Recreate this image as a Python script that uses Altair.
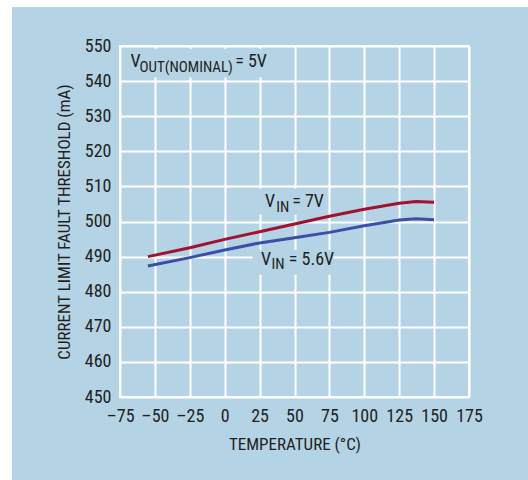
import altair as alt
import pandas as pd

temp_7v = [-55, -25, 0, 25, 50, 75, 100, 125, 137, 150]
vin_7v = [490.0, 492.5, 494.9, 497.1, 499.3, 501.5, 503.5, 505.2, 505.7, 505.5]
temp_56v = [-55, -25, 0, 25, 50, 75, 100, 125, 137, 150]
vin_56v = [487.3, 489.7, 491.9, 493.9, 495.4, 496.9, 498.8, 500.4, 500.8, 500.5]

x_ticks = [-75, -50, -25, 0, 25, 50, 75, 100, 125, 150, 175]
y_ticks = [450, 460, 470, 480, 490, 500, 510, 520, 530, 540, 550]

BG = "#b4d3e4"
TXT = "#231f20"
FONT = "Roboto Condensed"

df = pd.DataFrame(
    {"t": temp_7v + temp_56v,
     "v": vin_7v + vin_56v,
     "s": ["7V"] * len(temp_7v) + ["5.6V"] * len(temp_56v)}
)

xs = alt.Scale(domain=[-75, 175], nice=False)
ys = alt.Scale(domain=[450, 550], nice=False)

x_axis = alt.Axis(values=x_ticks, title="TEMPERATURE (°C)", labelFontSize=18,
                  titleFontSize=17, labelPadding=10, titlePadding=11,
                  labelOverlap=False, labelFlush=False,
                  labelExpr="replace(datum.label, '−', '–')")
y_axis = alt.Axis(values=y_ticks, title="CURRENT LIMIT FAULT THRESHOLD (mA)",
                  labelFontSize=18, titleFontSize=17, labelPadding=9,
                  labelOverlap=False, labelFlush=False, titlePadding=11)

# white page margins (left and top strips)
strips = alt.Chart(pd.DataFrame({"a": [0]})).mark_rect(color="white")
left_strip = strips.encode(x=alt.value(-121), x2=alt.value(-108), y=alt.value(-47), y2=alt.value(440))
top_strip = strips.encode(x=alt.value(-121), x2=alt.value(420), y=alt.value(-47), y2=alt.value(-39))

base = alt.Chart(df).mark_line(strokeWidth=3).encode(
    x=alt.X("t:Q", scale=xs, axis=x_axis),
    y=alt.Y("v:Q", scale=ys, axis=y_axis),
    color=alt.Color("s:N", scale=alt.Scale(domain=["7V", "5.6V"], range=["#a0122e", "#3a4fa5"]),
                    legend=None),
    detail="s:N",
)

boxes = pd.DataFrame({
    "x1": [-73, 24, 20],
    "x2": [33, 72, 78],
    "y1": [549.2, 509.4, 491.9],
    "y2": [541.0, 501.9, 484.8],
})
mask = alt.Chart(boxes).mark_rect(color=BG).encode(
    x=alt.X("x1:Q", scale=xs, axis=x_axis), x2="x2:Q",
    y=alt.Y("y1:Q", scale=ys, axis=y_axis), y2="y2:Q",
)

big = pd.DataFrame({
    "x": [-67.5, 7.5, 28.9, 48.3, 26.0, 45.9],
    "y": [544.1, 544.1, 504.0, 504.0, 487.6, 487.6],
    "label": ["V", "= 5V", "V", "= 7V", "V", "= 5.6V"],
})
small = pd.DataFrame({
    "x": [-61.0, 37.0, 33.5],
    "y": [542.7, 502.8, 486.4],
    "label": ["OUT(NOMINAL)", "IN", "IN"],
})
big_t = alt.Chart(big).mark_text(align="left", baseline="alphabetic", fontSize=18,
                                 color=TXT, font=FONT).encode(
    x=alt.X("x:Q", scale=xs, axis=x_axis), y=alt.Y("y:Q", scale=ys, axis=y_axis), text="label:N")
small_t = alt.Chart(small).mark_text(align="left", baseline="alphabetic", fontSize=15,
                                     color=TXT, font=FONT).encode(
    x=alt.X("x:Q", scale=xs, axis=x_axis), y=alt.Y("y:Q", scale=ys, axis=y_axis), text="label:N")

chart = alt.layer(left_strip, top_strip, mask, base, big_t, small_t).properties(
    width=349, height=351,
    autosize=alt.AutoSizeParams(type="none"),
    padding={"left": 120, "top": 46, "right": 59, "bottom": 83},
    background=BG,
).configure_view(fill=BG, stroke="white", strokeWidth=2).configure_axis(
    grid=True, gridColor="white", gridWidth=2, gridOpacity=1,
    domain=False, ticks=False, labelColor=TXT, titleColor=TXT,
    labelFont=FONT, titleFont=FONT, titleFontWeight="normal",
).configure_text(font=FONT)

chart.save("out.html", embed_options={"renderer": "svg", "actions": False})
